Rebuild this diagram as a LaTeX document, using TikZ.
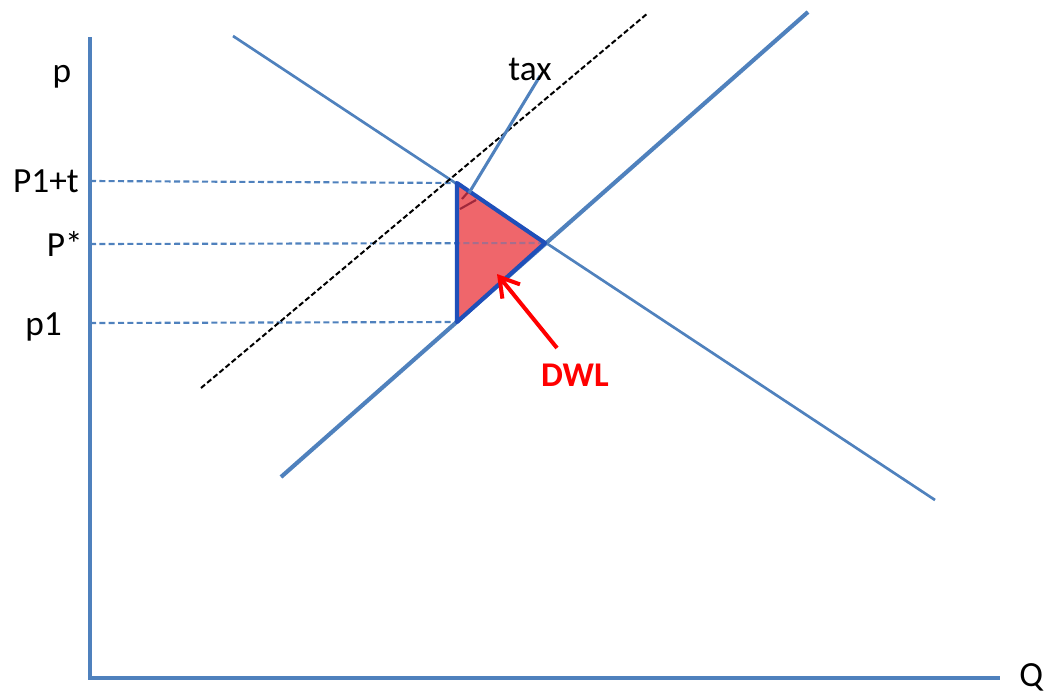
\documentclass[tikz,border=0pt]{standalone}
\usepackage{fontspec}
\setmainfont{Carlito}
\usetikzlibrary{arrows.meta}
\definecolor{axblue}{RGB}{79,129,189}
\definecolor{triblue}{RGB}{31,79,185}
\definecolor{trifill}{RGB}{238,95,100}
\definecolor{dwlred}{RGB}{255,0,0}
\definecolor{markred}{RGB}{160,40,60}
\tikzset{
  axis/.style={draw=axblue,line width=2.5pt},
  demand/.style={draw=axblue,line width=2pt},
  supply/.style={draw=axblue,line width=3.1pt},
  guide/.style={draw=axblue,line width=1.6pt,dash pattern=on 4.5pt off 2.5pt},
  taxline/.style={draw=black,line width=1.5pt,dash pattern=on 4pt off 2pt},
  lbl/.style={font=\fontsize{26.5}{30}\selectfont,inner sep=0pt},
  dwl/.style={font=\fontsize{26}{30}\selectfont\bfseries,text=dwlred,inner sep=0pt}
}
\begin{document}
\begin{tikzpicture}[x=0.75pt,y=-0.75pt]
\useasboundingbox (0,0) rectangle (1045,696);
% coordinates
\coordinate (yaxtop) at (90,37);
\coordinate (origin) at (90,678);
\coordinate (xaxend) at (1000,678);
\coordinate (d1) at (233,36);
\coordinate (d2) at (935,500);
\coordinate (s1) at (281,477);
\coordinate (s2) at (808,12);
\coordinate (t1) at (201,388);
\coordinate (t2) at (648,13);
\coordinate (A) at (457,183);
\coordinate (E) at (545,243);
\coordinate (B) at (457,322);
\coordinate (taxfoot) at (469,193);
\coordinate (taxtop) at (540,76);
\coordinate (arrtail) at (557,348);
\coordinate (arrhead) at (497,274);
\coordinate (gA) at (90,181);
\coordinate (gE) at (90,244);
\coordinate (gB) at (90,323);
% axes
\draw[axis] (yaxtop) -- (origin) -- (xaxend);
% guide lines
\draw[guide] (gA) -- (A);
\draw[guide] (gB) -- (B);
% demand and supply
\draw[demand] (d1) -- (d2);
\draw[supply] (s1) -- (s2);
% triangle
\fill[trifill,fill opacity=0.9] (A) -- (E) -- (B) -- cycle;
\draw[guide] (gE) -- (E);
\fill[trifill,fill opacity=0.55] (A) -- (E) -- (B) -- cycle;
\draw[markred,line width=1.6pt] (460,209) -- (476,200);
\draw[markred,line width=1.6pt] (462,199) -- (469,191);
\draw[draw=triblue,line width=3.1pt,line join=round] (A) -- (E) -- (B) -- cycle;
% tax-shifted supply
\draw[taxline] (t1) -- (t2);
% tax pointer
\draw[demand,line width=2.3pt] (taxfoot) -- (taxtop);
\node[lbl,anchor=base] (taxlbl) at (530,80) {tax};
% DWL arrow
\node[dwl,anchor=base] (dwllbl) at (575,386) {DWL};
\draw[draw=dwlred,line width=3pt,-{Straight Barb[length=14pt,width=17pt,line width=3pt]}] (arrtail) -- (arrhead);
% axis labels
\node[lbl,anchor=base] (plbl) at (62,82) {p};
\node[lbl,anchor=base east] (p1tlbl) at (79,192) {P1+t};
\node[lbl,anchor=base east] (pstarlbl) at (83,256) {P*};
\node[lbl,anchor=base east] (p1lbl) at (62,335) {p1};
\node[lbl,anchor=base west] (qlbl) at (1019,686) {Q};
\end{tikzpicture}
\end{document}
